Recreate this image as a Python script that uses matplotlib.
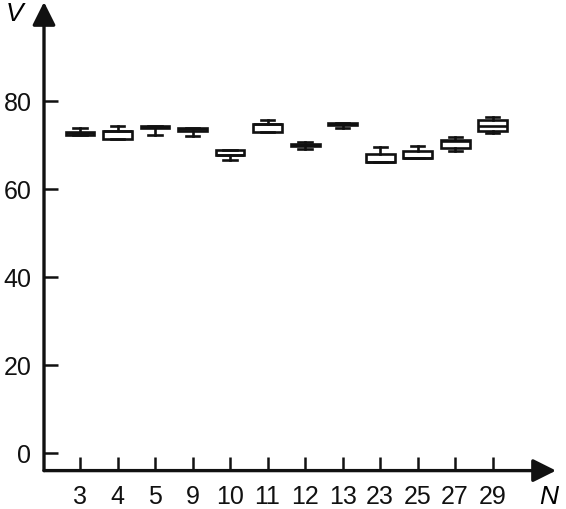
import matplotlib.pyplot as plt

plt.rcParams['font.family'] = ['Liberation Sans Narrow', 'Liberation Sans', 'DejaVu Sans']

# values
groups = ["3", "4", "5", "9", "10", "11", "12", "13", "23", "25", "27", "29"]
whislo = [72.3, 71.4, 72.3, 71.9, 66.6, 72.9, 69.0, 73.9, 66.1, 67.0, 68.5, 72.7]
q1 = [72.3, 71.4, 73.7, 73.1, 67.6, 72.9, 69.6, 74.5, 66.1, 67.0, 69.2, 73.0]
med = [72.6, 73.1, 74.0, 73.5, 67.6, 74.6, 69.9, 74.7, 66.1, 67.0, 70.9, 74.2]
q3 = [72.9, 73.1, 74.2, 73.9, 68.9, 74.8, 70.2, 74.9, 68.0, 68.5, 71.0, 75.5]
whishi = [73.9, 74.2, 74.2, 73.9, 68.9, 75.5, 70.7, 74.9, 69.4, 69.6, 71.8, 76.4]

stats = []
for i in range(len(groups)):
    stats.append(dict(label=groups[i], whislo=whislo[i], q1=q1[i], med=med[i],
                      q3=q3[i], whishi=whishi[i], fliers=[]))

fig = plt.figure(figsize=(5.66, 5.10), dpi=100)
ax = fig.add_axes([44 / 566, (510 - 471.6) / 510, 512 / 566, 468.6 / 510])

lw = 1.9
ax.bxp(stats, positions=range(1, len(groups) + 1), widths=0.77, capwidths=0.35,
       showfliers=False, patch_artist=True,
       boxprops=dict(facecolor='white', edgecolor='#111111', linewidth=lw),
       medianprops=dict(color='#111111', linewidth=lw),
       whiskerprops=dict(color='#111111', linewidth=lw),
       capprops=dict(color='#111111', linewidth=lw))

ax.set_xlim(0.04, 13.69)
ax.set_ylim(-4, 102.4)
ax.set_yticks([0, 20, 40, 60, 80])
ax.set_xticks(range(1, len(groups) + 1))
ax.set_xticklabels(groups)

for s in ax.spines.values():
    s.set_visible(False)

ax.tick_params(axis='both', direction='in', length=10, width=1.8, labelsize=18,
               colors='#111111')
ax.tick_params(axis='y', pad=9)
ax.tick_params(axis='x', pad=10)

# axis lines with arrow heads
arr = dict(arrowstyle='-|>,head_length=0.7,head_width=0.35', lw=2.4, color='#111111',
           shrinkA=0, shrinkB=0, mutation_scale=20)
ax.annotate('', xy=(1, 0), xytext=(0, 0), xycoords='axes fraction', arrowprops=arr,
            annotation_clip=False)
ax.annotate('', xy=(0, 1), xytext=(0, 0), xycoords='axes fraction', arrowprops=arr,
            annotation_clip=False)

fig.text(15 / 566, 1 - 14 / 510, "V", fontsize=19, style='italic', ha='center', va='center')
fig.text(549 / 566, 1 - 497 / 510, "N", fontsize=19, style='italic', ha='center', va='center')

fig.savefig("out.png", dpi=100)
